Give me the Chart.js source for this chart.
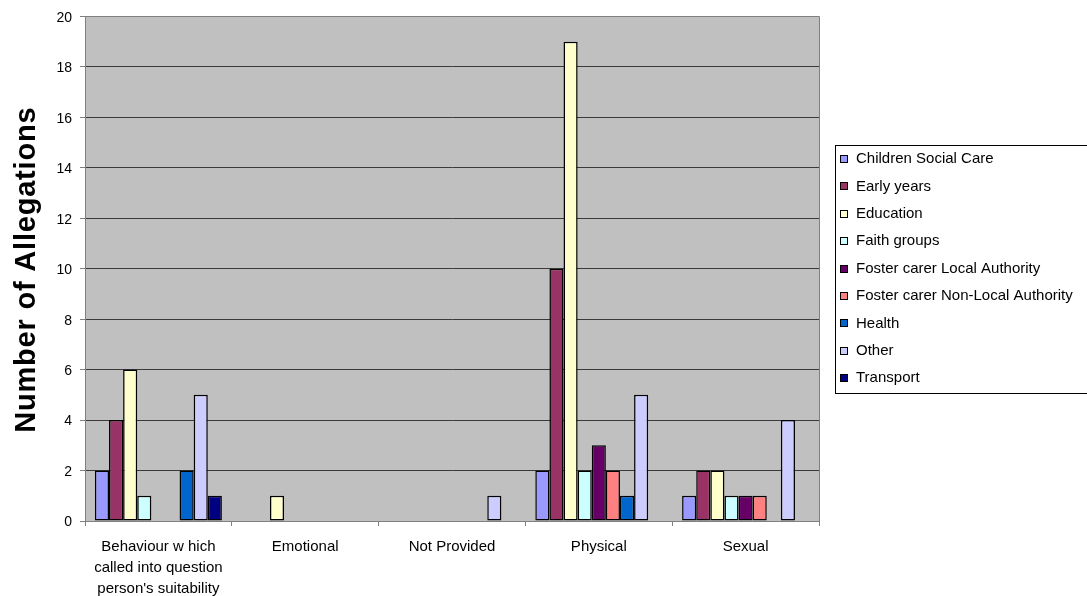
<!DOCTYPE html>
<html>
<head>
<meta charset="utf-8">
<script src="https://cdn.jsdelivr.net/npm/chart.js@4"></script>
<style>
  html, body { margin: 0; padding: 0; background: #fff; }
  #wrap { width: 1087px; height: 596px; }
</style>
</head>
<body>
<div id="wrap"><canvas id="c" width="1087" height="596"></canvas></div>
<script>
// Allegation categories (x axis)
const categories = [
  ["Behaviour w hich", "called into question", "person's suitability"],
  "Emotional",
  "Not Provided",
  "Physical",
  "Sexual"
];

// Sector series, one value per category
const childrenSocialCare = [2, 0, 0, 2, 1];
const earlyYears         = [4, 0, 0, 10, 2];
const education          = [6, 1, 0, 19, 2];
const faithGroups        = [1, 0, 0, 2, 1];
const fosterCarerLA      = [0, 0, 0, 3, 1];
const fosterCarerNonLA   = [0, 0, 0, 2, 1];
const health             = [2, 0, 0, 1, 0];
const other              = [5, 0, 1, 5, 4];
const transport          = [1, 0, 0, 0, 0];

const seriesNames = [
  "Children Social Care", "Early years", "Education", "Faith groups",
  "Foster carer Local Authority", "Foster carer Non-Local Authority",
  "Health", "Other", "Transport"
];
const seriesValues = [
  childrenSocialCare, earlyYears, education, faithGroups,
  fosterCarerLA, fosterCarerNonLA, health, other, transport
];
const seriesColors = [
  "#9999FF", "#993366", "#FFFFCC", "#CCFFFF",
  "#660066", "#FF8080", "#0066CC", "#CCCCFF", "#000080"
];

const yTicks = [0, 2, 4, 6, 8, 10, 12, 14, 16, 18, 20];
const yTitle = 'Number of Allegations';

const FONT = "'Liberation Sans', Arial, sans-serif";

// Grey plot background and plot-area frame
const plotFrame = {
  id: 'plotFrame',
  beforeDraw(chart) {
    const { ctx, chartArea: a } = chart;
    ctx.save();
    ctx.fillStyle = '#C0C0C0';
    ctx.fillRect(a.left, a.top, a.right - a.left, a.bottom - a.top);
    ctx.restore();
  },
  afterDatasetsDraw(chart) {
    const { ctx, chartArea: a } = chart;
    ctx.save();
    ctx.strokeStyle = '#808080';
    ctx.lineWidth = 1;
    ctx.beginPath();
    ctx.moveTo(Math.round(a.left) + 0.5, Math.round(a.top) + 0.5);
    ctx.lineTo(Math.round(a.right) + 0.5, Math.round(a.top) + 0.5);
    ctx.lineTo(Math.round(a.right) + 0.5, Math.round(a.bottom) + 0.5);
    ctx.stroke();
    ctx.restore();
  }
};

// Rotated bold y-axis title
const axisTitle = {
  id: 'axisTitle',
  afterDraw(chart) {
    const { ctx, chartArea: a } = chart;
    ctx.save();
    ctx.translate(35, (a.top + a.bottom) / 2 + 1);
    ctx.rotate(-Math.PI / 2);
    ctx.font = 'bold 29px ' + FONT;
    if ('letterSpacing' in ctx) ctx.letterSpacing = '0.8px';
    ctx.fillStyle = '#000';
    ctx.textAlign = 'center';
    ctx.textBaseline = 'alphabetic';
    ctx.fillText(yTitle, 0, 0);
    ctx.restore();
  }
};

// Boxed legend on the right
const boxLegend = {
  id: 'boxLegend',
  afterDraw(chart) {
    const { ctx } = chart;
    const x0 = 835.5, y0 = 145.5, h = 248;
    ctx.save();
    ctx.strokeStyle = '#000';
    ctx.lineWidth = 1;
    ctx.strokeRect(x0, y0, 400, h);
    ctx.font = '15px ' + FONT;
    ctx.textBaseline = 'middle';
    chart.data.datasets.forEach((ds, i) => {
      const cy = 159 + i * 27.4;
      const sy = Math.round(cy - 4);
      ctx.fillStyle = ds.backgroundColor;
      ctx.fillRect(840, sy, 8, 8);
      ctx.strokeStyle = '#000';
      ctx.strokeRect(840.5, sy + 0.5, 7, 7);
      ctx.fillStyle = '#000';
      ctx.fillText(ds.label, 856, cy);
    });
    ctx.restore();
  }
};

new Chart(document.getElementById('c'), {
  type: 'bar',
  data: {
    labels: categories,
    datasets: seriesNames.map((name, i) => ({
      label: name,
      data: seriesValues[i].map(v => (v === 0 ? null : v)),
      backgroundColor: seriesColors[i],
      borderColor: '#000',
      borderWidth: 1.5,
      borderSkipped: false,
      categoryPercentage: 0.865,
      barPercentage: 1
    }))
  },
  options: {
    responsive: false,
    animation: false,
    layout: { padding: { top: 16, right: 268, bottom: 0, left: 0 } },
    plugins: {
      legend: { display: false },
      tooltip: { enabled: false }
    },
    scales: {
      x: {
        offset: true,
        grid: {
          offset: true,
          drawOnChartArea: false,
          drawTicks: true,
          tickLength: 5,
          color: '#808080'
        },
        border: { color: '#808080' },
        ticks: {
          color: '#000',
          font: { family: FONT, size: 15, lineHeight: 1.4 },
          padding: 10,
          maxRotation: 0,
          autoSkip: false
        },
        afterFit(s) { s.height = 75; }
      },
      y: {
        min: 0,
        max: 20,
        afterBuildTicks(s) { s.ticks = yTicks.map(v => ({ value: v })); },
        grid: {
          color: ctx => (ctx.tick && ctx.tick.value === 20 ? '#808080' : '#3a3a3a'),
          tickColor: '#808080',
          tickLength: 5
        },
        border: { color: '#808080' },
        ticks: {
          color: '#000',
          font: { family: FONT, size: 14 },
          padding: 8,
          labelOffset: 1.5
        },
        afterFit(s) { s.width = 85; }
      }
    }
  },
  plugins: [plotFrame, axisTitle, boxLegend]
});
</script>
</body>
</html>
